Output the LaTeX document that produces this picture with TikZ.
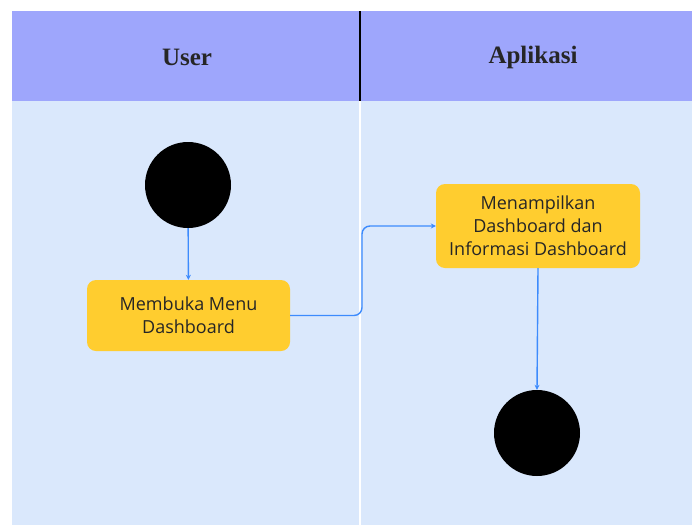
\documentclass[tikz,border=0pt]{standalone}
\usepackage{fontspec}
\setmainfont{Liberation Serif}
\newfontfamily\boxfont{Open Sans}
\usetikzlibrary{arrows.meta}
\definecolor{headfill}{HTML}{9EA6FC}
\definecolor{bodyfill}{HTML}{DAE8FC}
\definecolor{actfill}{HTML}{FFCD2F}
\definecolor{flow}{HTML}{3D8BFD}
\tikzset{
  actbox/.style={draw=none, fill=actfill, rounded corners=9pt, align=center, font=\boxfont\fontsize{18}{23}\selectfont, text=black!85},
  dot/.style={circle, fill=black, draw=none, minimum size=86pt, inner sep=0pt},
  flowline/.style={draw=flow, line width=1.4pt, -{Stealth[length=5pt,width=5pt]}, rounded corners=8pt},
  headtext/.style={font=\bfseries\fontsize{25}{28}\selectfont, text=black!85}
}
\begin{document}
\begin{tikzpicture}[x=1pt,y=-1pt]
\useasboundingbox (0,0) rectangle (692,525);
\fill[white] (0,0) rectangle (692,525);
\fill[bodyfill] (12,101) rectangle (692,525);
\fill[headfill] (12,11) rectangle (692,101);
\draw[white, line width=1.5pt] (360,101) -- (360,525);
\draw[black, line width=1.5pt] (360,11) -- (360,101);
\node[headtext] (hu) at (187,57) {User};
\node[headtext] (ha) at (533,57) {Aplikasi};
\node[dot] (start) at (188,185) {};
\node[actbox, minimum width=203pt, minimum height=71pt] (b1) at (188.5,315.5) {Membuka Menu\\Dashboard};
\node[actbox, minimum width=204pt, minimum height=84pt] (b2) at (538,226) {Menampilkan\\Dashboard dan\\Informasi Dashboard};
\node[dot] (end) at (537,433) {};
\draw[flowline] (start) -- (b1);
\draw[flowline] (b1.east) -- (362,315.5) -- (362,226) -- (b2.west);
\draw[flowline] (b2.south) -- (end.north);
\end{tikzpicture}
\end{document}
